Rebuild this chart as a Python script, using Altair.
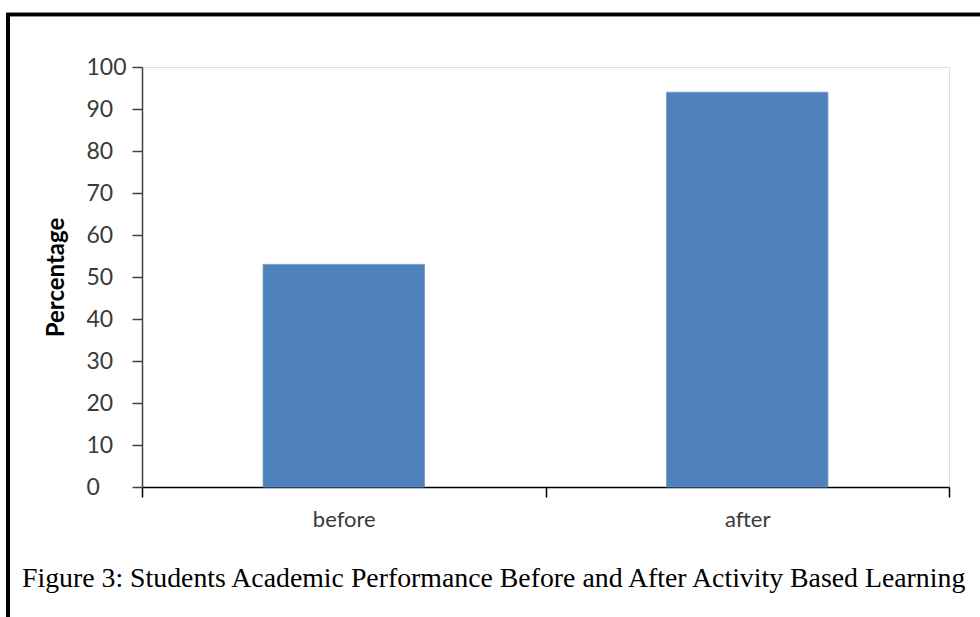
import altair as alt
import pandas as pd

# Average academic performance (%) of students
phases = ["before", "after"]
percentages = [53, 94]
y_ticks = [0, 10, 20, 30, 40, 50, 60, 70, 80, 90, 100]
caption = "Figure 3: Students Academic Performance Before and After Activity Based Learning"

df = pd.DataFrame({"phase": phases, "pct": percentages})

label_font = "Lato"
text_color = "#3a3a3a"

bars = alt.Chart(df).mark_bar(
    color="#4F81BD", stroke="#6f97c8", strokeWidth=0.8, width=alt.RelativeBandSize(0.4)
).encode(
    x=alt.X(
        "phase:N",
        sort=phases,
        scale=alt.Scale(paddingInner=0, paddingOuter=0),
        axis=alt.Axis(
            title=None,
            labelAngle=0,
            labelFont=label_font,
            labelFontSize=22,
            labelColor=text_color,
            labelPadding=12,
            tickBand="extent",
            tickSize=10,
            tickColor="#000000",
            tickWidth=1.5,
            domainColor="#000000",
            domainWidth=1.5,
            grid=False,
        ),
    ),
    y=alt.Y(
        "pct:Q",
        scale=alt.Scale(domain=[0, 100], nice=False),
        axis=alt.Axis(
            title="Percentage",
            titleFont=label_font,
            titleFontSize=24,
            titleFontWeight="bold",
            titleColor="#000000",
            titlePadding=18,
            values=y_ticks,
            labelFont=label_font,
            labelFontSize=23,
            labelColor=text_color,
            labelAlign="left",
            labelPadding=46,
            tickSize=10,
            tickColor="#404040",
            tickWidth=1.5,
            domainColor="#404040",
            domainWidth=1.5,
            grid=False,
        ),
    ),
)

# Black frame lines around the figure (top and left edges)
frame_top = alt.Chart(df).mark_rule(color="#000000", strokeWidth=3.5, clip=False).encode(
    x=alt.value(-136), x2=alt.value(840), y=alt.value(-52.5)
)
frame_left = alt.Chart(df).mark_rule(color="#000000", strokeWidth=4, clip=False).encode(
    x=alt.value(-134), y=alt.value(-54), y2=alt.value(560)
)

# Figure caption below the chart
caption_text = alt.Chart(pd.DataFrame({"caption": [caption]})).mark_text(
    font="Liberation Serif",
    fontSize=27.8,
    color="#000000",
    align="left",
    baseline="alphabetic",
    clip=False,
).encode(
    text="caption:N",
    x=alt.value(-120),
    y=alt.value(520),
)

chart = (
    alt.layer(bars, frame_top, frame_left, caption_text)
    .properties(
        width=807,
        height=420,
        padding={"left": 142, "top": 67, "right": 31, "bottom": 130},
        autosize=alt.AutoSizeParams(type="none"),
    )
    .configure_view(stroke="#d9d9d9", strokeWidth=1.5)
    .configure(background="#ffffff")
)

chart.save("out.html", embed_options={"renderer": "svg", "actions": False})
